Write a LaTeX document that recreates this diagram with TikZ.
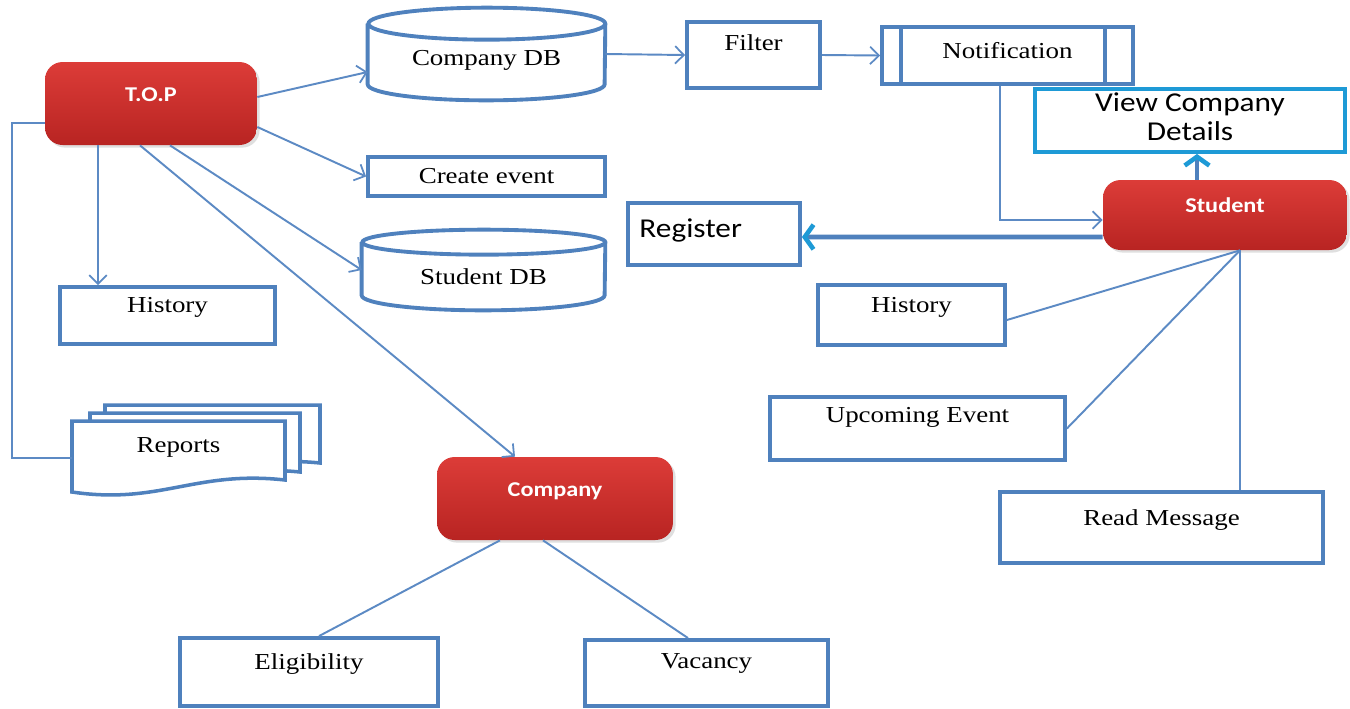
\documentclass[tikz,border=0pt]{standalone}
\usepackage{fontspec}
\setmainfont{Liberation Serif}[FakeStretch=1.18]
\newfontfamily\calibri{Carlito}[FakeStretch=1.15]
\usetikzlibrary{arrows.meta,shadows}
\definecolor{boxblue}{RGB}{79,129,189}
\definecolor{lineblue}{RGB}{92,138,196}
\definecolor{viewblue}{RGB}{30,154,214}
\definecolor{redtop}{RGB}{220,60,56}
\definecolor{redbot}{RGB}{184,36,34}
\begin{document}
\begin{tikzpicture}[x=0.02cm,y=-0.02cm,>={Straight Barb[length=5pt,width=10pt,line width=1pt]}]
        \tikzstyle{every node}=[inner sep=0pt];
        \tikzstyle{every label}=[inner sep=0pt,font=\fontsize{13}{16}\selectfont];
        \tikzstyle{box}=[draw=boxblue,line width=2.2pt,fill=white,shape=rectangle];
        \tikzstyle{dbline}=[draw=boxblue,line width=2.2pt,fill=white];
        \tikzstyle{actor}=[shape=rectangle,rounded corners=10pt,top color=redtop,bottom color=redbot,drop shadow={opacity=0.25,shadow xshift=1.5pt,shadow yshift=-1.5pt}];
        \tikzstyle{white label}=[text=white,font=\calibri\bfseries\fontsize{12}{14}\selectfont];
        \tikzstyle{link}=[lineblue,line width=1.1pt];
        \tikzstyle{bigarrow}=[boxblue,line width=2.8pt,-{Straight Barb[color=viewblue,length=5pt,width=14pt,line width=2.6pt]}];
        \path[use as bounding box,fill=white] (0,0) rectangle (1350,708);
        %T.O.P side
        \node[actor,minimum width=4.24cm,minimum height=1.66cm,label={[white label,yshift=0.18cm]center:T.O.P}] (top) at (151,103.5) {};
        \node[minimum width=4.74cm,minimum height=1.84cm] (compdb) at (486.5,54) {};
        \draw[dbline] ([yshift=-0.32cm]compdb.north west) -- ([yshift=0.32cm]compdb.south west)
                arc[start angle=180,end angle=360,x radius=2.37cm,y radius=0.32cm]
                -- ([yshift=-0.32cm]compdb.north east)
                arc[start angle=0,end angle=360,x radius=2.37cm,y radius=0.32cm];
        \node at ([yshift=-0.12cm]compdb.center) [font=\fontsize{13}{16}\selectfont] (compdbtext) {Company DB};
        \node[box,minimum width=4.74cm,minimum height=0.78cm,label={center:Create event}] (event) at (486.5,176.5) {};
        \node[minimum width=4.86cm,minimum height=1.6cm] (studdb) at (483.5,270) {};
        \draw[dbline] ([yshift=-0.25cm]studdb.north west) -- ([yshift=0.3cm]studdb.south west)
                arc[start angle=180,end angle=360,x radius=2.43cm,y radius=0.3cm]
                -- ([yshift=-0.25cm]studdb.north east)
                arc[start angle=0,end angle=360,x radius=2.43cm,y radius=0.25cm];
        \node at ([yshift=-0.14cm]studdb.center) [font=\fontsize{13}{16}\selectfont] (studdbtext) {Student DB};
        \node[box,minimum width=4.3cm,minimum height=1.14cm,label={[yshift=0.17cm]center:History}] (histl) at (167.5,315.5) {};
        %reports, three pages
        \draw[boxblue,line width=2pt,fill=white] (105,465) -- (105,405) -- (320,405) -- (320,463) .. controls (240,455) and (200,480) .. (105,465);
        \draw[boxblue,line width=2pt,fill=white] (90,480) -- (90,413) -- (300,413) -- (300,472) .. controls (220,464) and (180,490) .. (90,480);
        \draw[boxblue,line width=2pt,fill=white] (72,492) -- (72,421) -- (285,421) -- (285,480) .. controls (195,470) and (160,505) .. (72,492) -- cycle;
        \node (reports) at (178.5,450) [minimum width=4.26cm,minimum height=1.2cm,label={[yshift=0.06cm]center:Reports}] {};
        %company side
        \node[actor,minimum width=4.72cm,minimum height=1.66cm,label={[white label,yshift=0.15cm]center:Company}] (company) at (555,498.5) {};
        \node[box,minimum width=5.16cm,minimum height=1.36cm,label={[yshift=0.16cm]center:Eligibility}] (elig) at (309,672) {};
        \node[box,minimum width=4.86cm,minimum height=1.32cm,label={[yshift=0.2cm]center:Vacancy}] (vacancy) at (706.5,673) {};
        %student side
        \node[box,minimum width=2.66cm,minimum height=1.32cm,label={[yshift=0.24cm]center:Filter}] (filter) at (753.5,55) {};
        \node[box,minimum width=5.02cm,minimum height=1.14cm,label={[yshift=0.1cm]center:Notification}] (notif) at (1007.5,55.5) {};
        \draw[boxblue,line width=2.2pt] ([xshift=0.42cm]notif.north west) -- ([xshift=0.42cm]notif.south west);
        \draw[boxblue,line width=2.2pt] ([xshift=-0.6cm]notif.north east) -- ([xshift=-0.6cm]notif.south east);
        \node[box,draw=viewblue,minimum width=6.2cm,minimum height=1.26cm,label={[align=center,font=\calibri\fontsize{15.5}{16.5}\selectfont,yshift=0.08cm]center:View Company\\Details}] (view) at (1190,120.5) {};
        \node[actor,minimum width=4.88cm,minimum height=1.4cm,label={[white label,yshift=0.2cm]center:Student}] (student) at (1225,215) {};
        \node[box,minimum width=3.44cm,minimum height=1.24cm,label={[font=\calibri\fontsize{15.5}{18}\selectfont,anchor=west,xshift=0.26cm,yshift=0.08cm]west:Register}] (register) at (714,234) {};
        \node[box,minimum width=3.74cm,minimum height=1.2cm,label={[yshift=0.16cm]center:History}] (histr) at (911.5,315) {};
        \node[box,minimum width=5.9cm,minimum height=1.26cm,label={[yshift=0.22cm]center:Upcoming Event}] (upcoming) at (917.5,428.5) {};
        \node[box,minimum width=6.46cm,minimum height=1.42cm,label={[yshift=0.14cm]center:Read Message}] (readmsg) at (1161.5,527.5) {};
        %connectors
        \draw[link,->] ([yshift=0.13cm]top.east) -- ([yshift=-0.36cm]compdb.west);
        \draw[link,->] ([yshift=-0.47cm]top.east) -- (event.west);
        \draw[link,->] ([xshift=0.38cm]top.south) -- (studdb.west);
        \draw[link,->] ([xshift=-0.22cm]top.south) -- ([xshift=-0.8cm]company.north);
        \draw[link,->] ([xshift=-1.06cm]top.south) -- ([xshift=-1.06cm]top.south |- histl.north);
        \draw[link] ([yshift=-0.39cm]top.west) -- ++(-0.66cm,0) |- ([yshift=-0.16cm]reports.west);
        \draw[link,->] (compdb.east) -- (filter.west);
        \draw[link,->] (filter.east) -- (notif.west);
        \draw[link,->] ([xshift=-0.15cm]notif.south) |- ([yshift=-0.1cm]student.west);
        \draw[bigarrow] ([yshift=-0.44cm]student.west) -- ([yshift=-0.06cm]register.east);
        \draw[bigarrow] ([xshift=-0.56cm]student.north) -- ([xshift=-0.56cm]student.north |- view.south);
        \draw[link] ([xshift=0.3cm]student.south) -- ([yshift=-0.1cm]histr.east);
        \draw[link] ([xshift=0.3cm]student.south) -- (upcoming.east);
        \draw[link] ([xshift=0.3cm]student.south) -- ([xshift=0.3cm]student.south |- readmsg.north);
        \draw[link] ([xshift=-1.1cm]company.south) -- ([xshift=0.2cm]elig.north);
        \draw[link] ([xshift=-0.24cm]company.south) -- ([xshift=-0.37cm]vacancy.north);
\end{tikzpicture}
\end{document}
